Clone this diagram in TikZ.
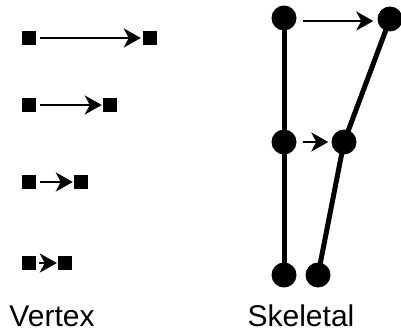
\documentclass[tikz,border=0pt]{standalone}
\usepackage{fontspec}
\setmainfont{Liberation Sans}
\usetikzlibrary{arrows.meta}
\begin{document}
\begin{tikzpicture}[x=1pt,y=-1pt,
  sq/.style={fill=black,inner sep=0pt,minimum size=14pt,draw=none},
  jt/.style={circle,fill=black,inner sep=0pt,minimum size=25pt,draw=none},
  arr/.style={line width=2.4pt,-{Stealth[length=17pt,width=19pt,inset=5pt]}},
  bone/.style={line width=5pt},
  lbl/.style={font=\fontsize{30}{36}\selectfont,anchor=base,inner sep=0pt}]
\useasboundingbox (0,0) rectangle (401,331);
% Vertex
\node[sq] (a1) at (29,38) {};
\node[sq] (b1) at (150,38) {};
\node[sq] (a2) at (29,105) {};
\node[sq] (b2) at (110,105) {};
\node[sq] (a3) at (29,182) {};
\node[sq] (b3) at (81,182) {};
\node[sq] (a4) at (29,263) {};
\node[sq] (b4) at (65,263) {};
\draw[arr,shorten <=4pt,shorten >=2pt] (a1) -- (b1);
\draw[arr,shorten <=4pt,shorten >=1pt] (a2) -- (b2);
\draw[arr,shorten <=4pt,shorten >=1pt] (a3) -- (b3);
\draw[arr,shorten <=3pt,shorten >=1pt] (a4) -- (b4);
% Skeletal
\coordinate (tl) at (284,18);
\coordinate (tr) at (390,19);
\coordinate (ml) at (284,142);
\coordinate (mr) at (344,142);
\coordinate (bl) at (284,275);
\coordinate (br) at (318,275);
\draw[bone] (tl) -- (ml) -- (bl);
\draw[bone] (tr) -- (mr) -- (br);
\node[jt] (ntl) at (tl) {};
\node[jt] (ntr) at (tr) {};
\node[jt] (nml) at (ml) {};
\node[jt] (nmr) at (mr) {};
\node[jt] (nbl) at (bl) {};
\node[jt] (nbr) at (br) {};
\draw[arr,line width=2.2pt,shorten <=6pt,shorten >=4pt] (ntl.east |- 0,21) -- (ntr.west |- 0,21);
\draw[arr,line width=2.2pt,shorten <=6pt,shorten >=3pt] (nml) -- (nmr);
% labels
\node[lbl] (v) at (52,326) {Vertex};
\node[lbl] (s) at (301,326) {Skeletal};
\end{tikzpicture}
\end{document}
